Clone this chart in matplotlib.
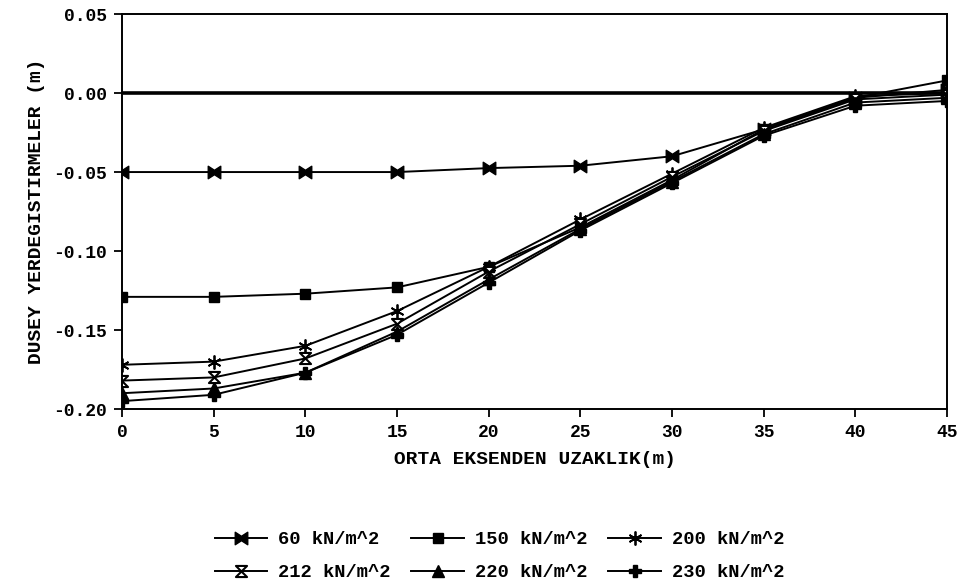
import numpy as np
import matplotlib
matplotlib.use("Agg")
from matplotlib import pyplot as plt
from matplotlib.path import Path

# distance from axis (m)
x = [0, 5, 10, 15, 20, 25, 30, 35, 40, 45]

# vertical displacement (m) per load
d60 = [-0.050, -0.050, -0.050, -0.050, -0.0475, -0.046, -0.040, -0.023, -0.003, 0.002]
d150 = [-0.129, -0.129, -0.127, -0.123, -0.110, -0.085, -0.055, -0.023, -0.003, 0.008]
d200 = [-0.172, -0.170, -0.160, -0.138, -0.110, -0.080, -0.051, -0.022, -0.002, 0.000]
d212 = [-0.182, -0.180, -0.168, -0.146, -0.113, -0.083, -0.053, -0.024, -0.004, -0.001]
d220 = [-0.190, -0.187, -0.177, -0.151, -0.118, -0.086, -0.056, -0.026, -0.006, -0.003]
d230 = [-0.195, -0.191, -0.177, -0.153, -0.120, -0.087, -0.057, -0.027, -0.008, -0.005]

labels = ["60 kN/m^2", "150 kN/m^2", "200 kN/m^2",
          "212 kN/m^2", "220 kN/m^2", "230 kN/m^2"]

xticks = [0, 5, 10, 15, 20, 25, 30, 35, 40, 45]
yticks = [0.05, 0.00, -0.05, -0.10, -0.15, -0.20]

# custom markers
bowtie = Path([(-1, 1), (0, 0.35), (1, 1), (1, -1), (0, -0.35), (-1, -1), (-1, 1)],
              [Path.MOVETO] + [Path.LINETO] * 5 + [Path.CLOSEPOLY])
hourglass = Path([(-1, 1), (1, 1), (-1, -1), (1, -1), (-1, 1)],
                 [Path.MOVETO, Path.LINETO, Path.LINETO, Path.LINETO, Path.CLOSEPOLY])

font = "Liberation Mono"
plt.rcParams["font.family"] = [font, "DejaVu Sans Mono"]
plt.rcParams["font.weight"] = "bold"

fig = plt.figure(figsize=(9.57, 5.86), dpi=100)
ax = fig.add_axes([0.1275, 0.302, 0.8621, 0.674])

ax.axhline(0, color="black", lw=2.6, zorder=1)

styles = [
    (d60, dict(marker=bowtie, ms=9, mfc="black")),
    (d150, dict(marker="s", ms=7, mfc="black")),
    (d200, dict(marker=(6, 2, 0), ms=10, mew=1.3)),
    (d212, dict(marker=hourglass, ms=8, mfc="white", mew=1.5)),
    (d220, dict(marker="^", ms=9, mfc="black")),
    (d230, dict(marker="P", ms=8, mfc="black")),
]
handles = []
for (y, st), lab in zip(styles, labels):
    h, = ax.plot(x, y, color="black", lw=1.4, mec="black", label=lab, **st)
    handles.append(h)

ax.set_xlim(0, 45)
ax.set_ylim(-0.20, 0.05)
ax.set_xticks(xticks)
ax.set_yticks(yticks)
ax.set_yticklabels(["%.2f" % v for v in yticks])
ax.tick_params(direction="out", length=6, width=1.3, labelsize=13, pad=5)
for s in ax.spines.values():
    s.set_linewidth(1.4)

ax.set_xlabel("ORTA EKSENDEN UZAKLIK(m)", fontsize=14, fontweight="bold", labelpad=7)
ax.set_ylabel("DUSEY YERDEGISTIRMELER (m)", fontsize=14, fontweight="bold", labelpad=6)

# legend is filled column by column, reorder so rows read 60/150/200 and 212/220/230
order = [0, 3, 1, 4, 2, 5]
fig.legend(handles=[handles[i] for i in order], loc="center",
           bbox_to_anchor=(0.522, 0.051), ncol=3, frameon=False, fontsize=13.5,
           handlelength=2.8, columnspacing=1.1, handletextpad=0.6,
           labelspacing=0.85, borderpad=0)

fig.savefig("out.png", dpi=100)
